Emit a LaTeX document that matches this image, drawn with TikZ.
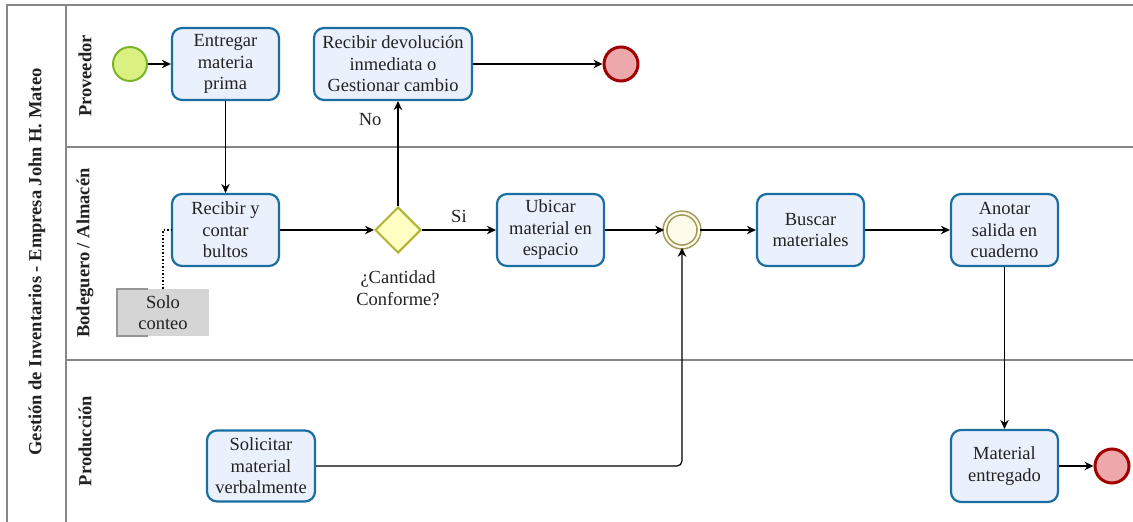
\documentclass[tikz,border=0pt]{standalone}
\usepackage{fontspec}
\setmainfont{Liberation Serif}
\usetikzlibrary{shapes.geometric,arrows.meta,calc}

\definecolor{inktext}{RGB}{34,34,34}
\definecolor{laneline}{RGB}{135,135,135}
\definecolor{taskfill}{RGB}{235,240,253}
\definecolor{taskline}{RGB}{26,110,160}
\definecolor{startfill}{RGB}{218,240,128}
\definecolor{startline}{RGB}{122,178,40}
\definecolor{endfill}{RGB}{236,168,170}
\definecolor{endline}{RGB}{162,0,0}
\definecolor{gwfill}{RGB}{255,255,196}
\definecolor{gwline}{RGB}{178,178,50}
\definecolor{midfill}{RGB}{255,251,234}
\definecolor{midline}{RGB}{163,154,90}
\definecolor{notefill}{RGB}{213,213,213}
\definecolor{notebracket}{RGB}{150,150,150}

\tikzset{
  basefont/.style={font=\fontsize{18.5}{21.5}\selectfont, text=inktext},
  task/.style={basefont, draw=taskline, fill=taskfill, line width=2.2pt,
    rounded corners=10pt, align=center, minimum width=107pt,
    minimum height=72pt, inner sep=2pt},
  startev/.style={circle, draw=startline, fill=startfill, line width=2pt,
    minimum size=34pt, inner sep=0pt},
  endev/.style={circle, draw=endline, fill=endfill, line width=3pt,
    minimum size=34pt, inner sep=0pt},
  gateway/.style={diamond, draw=gwline, fill=gwfill, line width=2pt,
    minimum width=46pt, minimum height=46pt, inner sep=0pt, aspect=1},
  midev/.style={circle, draw=midline, fill=midfill, line width=1.6pt,
    minimum size=34pt, inner sep=0pt, double=midfill, double distance=2.2pt},
  flow/.style={draw=black, line width=1.2pt,
    -{Stealth[length=9pt,width=8.5pt]}},
  lbl/.style={basefont, align=center, inner sep=0pt},
  lanelbl/.style={basefont, font=\fontsize{18.5}{21.5}\selectfont\bfseries,
    rotate=90, inner sep=0pt},
  pool/.style={draw=laneline, line width=2pt},
}

\begin{document}
\begin{tikzpicture}[x=1pt, y=-1pt]
\useasboundingbox (0,0) rectangle (1133,522);

% pool frame, header column and lanes
\draw[pool] (7,535) -- (7,5) -- (1145,5);
\draw[pool] (66,5) -- (66,535);
\draw[pool] (66,147) -- (1145,147);
\draw[pool] (66,360) -- (1145,360);

\node[lanelbl] (pooltitle) at (37,262) {Gestión de Inventarios - Empresa John H. Mateo};
\node[lanelbl] (lane1) at (85,76) {Proveedor};
\node[lanelbl] (lane2) at (85,253) {Bodeguero / Almacén};
\node[lanelbl] (lane3) at (85,441) {Producción};

% text annotation
\node[fill=notefill, minimum width=92pt, minimum height=47pt, inner sep=0pt,
      basefont, align=center] (note) at (163,312.5) {Solo\\conteo};
\draw[notebracket, line width=1.6pt]
  ($(note.north west)+(31,0)$) -- (note.north west) -- (note.south west)
  -- ($(note.south west)+(31,0)$);

% flow objects
\node[startev] (start) at (130,64) {};
\node[task] (entregar) at (225.5,64) {Entregar\\materia\\prima};
\node[task, minimum width=158pt] (devol) at (393,64)
  {Recibir devolución\\inmediata o\\Gestionar cambio};
\node[endev] (end1) at (621,64) {};

\node[task] (recv) at (225.5,230) {Recibir y\\contar\\bultos};
\node[gateway] (gw) at (398,230) {};
\node[lbl] (gwlabel) at (398,288) {¿Cantidad\\Conforme?};
\node[task] (ubicar) at (550.5,230) {Ubicar\\material en\\espacio};
\node[midev] (mid) at (682,230) {};
\node[task] (buscar) at (810.5,230) {Buscar\\materiales};
\node[task] (anotar) at (1004.5,230) {Anotar\\salida en\\cuaderno};

\node[task, minimum width=108pt, minimum height=71pt] (sol) at (261,466)
  {Solicitar\\material\\verbalmente};
\node[task] (entregado) at (1004.5,466) {Material\\entregado};
\node[endev] (end2) at (1112,466) {};

% association to the annotation
\draw[black, line width=1.5pt, dotted] (note.north) |- (recv.west);

% sequence flows
\draw[flow] (start) -- (entregar);
\draw[flow] (entregar) -- (recv);
\draw[flow] (recv) -- (gw);
\draw[flow] (gw.north) -- (gw.north |- devol.south)
  node[lbl, pos=0.82, left=16pt] (nolabel) {No};
\draw[flow] (devol) -- (end1);
\draw[flow] (gw) -- (ubicar)
  node[lbl, midway, above=7pt] (silabel) {Si};
\draw[flow] (ubicar) -- (mid);
\draw[flow] (mid) -- (buscar);
\draw[flow] (buscar) -- (anotar);
\draw[flow] (anotar) -- (entregado);
\draw[flow] (entregado) -- (end2);
\draw[flow, rounded corners=5pt] (sol.east) -| (mid.south);
\end{tikzpicture}
\end{document}
